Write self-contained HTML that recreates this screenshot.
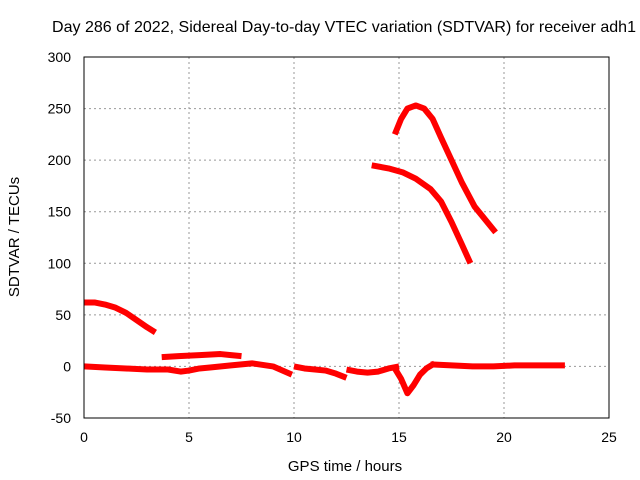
<!DOCTYPE html>
<html><head><meta charset="utf-8"><style>
body{margin:0;background:#fff;}
svg{display:block;font-family:"Liberation Sans",sans-serif;font-size:14px;}
</style></head><body>
<svg id="chart" width="640" height="480">
<text x="344" y="32" text-anchor="middle" style="font-size:16px" textLength="584">Day 286 of 2022, Sidereal Day-to-day VTEC variation (SDTVAR) for receiver adh1</text>
<text x="345" y="471" text-anchor="middle" style="font-size:15px">GPS time / hours</text>
<text transform="translate(19,237) rotate(-90)" text-anchor="middle" style="font-size:15px">SDTVAR / TECUs</text>
<g id="grid"></g><g id="series"></g>
<rect x="84" y="57" width="525" height="361" fill="none" stroke="#000"/>
</svg>
<script>
const xTicks=[0,5,10,15,20,25];
const yTicks=[-50,0,50,100,150,200,250,300];
const segX=[
 [0,0.5,1,1.5,2,2.5,3,3.4],
 [3.7,4.5,5.5,6.5,7,7.5],
 [0,1,2,3,4,4.6,5,5.5,6,7,8,9,9.9],
 [10,10.5,11,11.5,12,12.5],
 [12.5,13,13.5,14,14.5,15],
 [14.8,15.1,15.4,15.7,16,16.3,16.7],
 [16.5,17.5,18.5,19.5,20.5,21.5,22.9],
 [13.7,14.5,15.2,15.8,16.5,17,17.5,18,18.4],
 [14.8,15.1,15.4,15.8,16.2,16.6,17,17.5,18,18.6,19.6]
];
const segY=[
 [62,62,60,57,52,45,38,33],
 [9,10,11,12,11,10],
 [0,-1,-2,-3,-3,-5,-4,-2,-1,1,3,0,-8],
 [0,-2,-3,-4,-7,-11],
 [-3,-5,-6,-5,-2,0],
 [-2,-12,-26,-18,-8,-2,3],
 [2,1,0,0,1,1,1],
 [195,192,188,182,172,160,140,118,100],
 [225,240,250,253,250,240,222,200,178,155,130]
];
const X=v=>84+v*21, Y=v=>418-(v+50)*361/350;
const ns="http://www.w3.org/2000/svg";
const g=document.getElementById('grid'), s=document.getElementById('series');
function mk(tag,at,p){const e=document.createElementNS(ns,tag);for(const k in at)e.setAttribute(k,at[k]);p.appendChild(e);return e;}
xTicks.forEach(t=>{
 if(t>0&&t<25){const l=mk('line',{x1:X(t),x2:X(t),y1:57,y2:418,stroke:'#999','stroke-dasharray':'2,3'},g);
 
 }
 const tx=mk('text',{x:X(t),y:442,'text-anchor':'middle'},g);tx.textContent=t;
 
 
});
yTicks.forEach(t=>{
 if(t>-50&&t<300){const l=mk('line',{x1:84,x2:609,y1:Y(t),y2:Y(t),stroke:'#999','stroke-dasharray':'2,3'},g);
 
 }
 const tx=mk('text',{x:71,y:Y(t)+5,'text-anchor':'end'},g);tx.textContent=t;
 
 
});
segX.forEach((xs,i)=>{
 const pts=xs.map((x,j)=>X(x)+','+Y(segY[i][j])).join(' ');
 const p=mk('polyline',{points:pts,fill:'none',stroke:'#f00','stroke-width':6,'stroke-linejoin':'round'},s);
 
 
});
</script>
</body></html>
